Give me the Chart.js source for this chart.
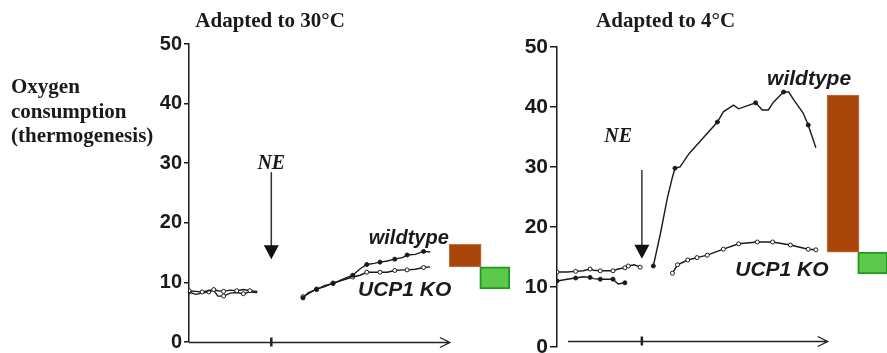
<!DOCTYPE html>
<html>
<head>
<meta charset="UTF-8">
<title>Oxygen consumption after NE</title>
<script src="https://cdn.jsdelivr.net/npm/chart.js"></script>
<style>
  body { margin: 0; background: #fff; }
  #wrap { position: relative; width: 887px; height: 353px; overflow: hidden; }
  .box { position: absolute; top: 0; height: 353px; }
</style>
</head>
<body>
<div id="wrap">
  <div class="box" style="left:0;width:520px"><canvas id="warm"></canvas></div>
  <div class="box" style="left:520px;width:373px"><canvas id="cold"></canvas></div>
</div>
<script>
// time in minutes, NE injected at t = 10
const neTime = 10;

// adapted to 30 C
const warmPreT   = [0, 0.8, 1.6, 2.4, 3.0, 3.5, 4.2, 5.0, 5.8, 6.6, 7.4, 8.3];
const warmWtPre  = [8.6, 8.5, 8.4, 8.6, 8.8, 8.6, 8.5, 8.7, 8.6, 8.8, 8.6, 8.5];
const warmKoPre  = [8.4, 8.0, 8.2, 8.4, 8.7, 7.7, 7.7, 8.2, 8.3, 8.1, 8.4, 8.3];
const warmPostT  = [13.85, 14.5, 15.5, 16.5, 17.5, 18.5, 19.9, 20.8, 21.6, 22.5, 23.2, 24.1, 25.0, 26.0, 26.5, 27.5, 28.5, 29.3];
const warmWtPost = [7.4, 8.3, 8.8, 9.5, 9.8, 10.4, 11.2, 12.3, 13.0, 13.2, 13.4, 13.6, 13.9, 14.2, 14.6, 14.7, 15.2, 15.1];
const warmKoPost = [7.6, 8.1, 8.9, 9.3, 9.9, 10.3, 10.9, 11.2, 11.7, 11.7, 11.7, 11.7, 12.0, 12.1, 12.1, 12.2, 12.5, 12.6];
const warmBarT   = [33.55, 37.15];
const warmWtBar  = [12.6, 16.4];
const warmKoBar  = [8.9, 12.6];

// adapted to 4 C
const coldPreT    = [0, 1.2, 2.2, 3.1, 3.9, 4.3, 5.1, 6.0, 6.6, 7.2, 8.0, 8.2, 8.4, 9.1, 9.8];
const coldUpPre   = [12.5, 12.5, 12.6, 12.7, 13.0, 12.8, 12.7, 12.7, 12.7, 13.0, 13.2, null, 13.5, 13.7, 13.3];
const coldLowPre  = [11.0, 11.3, 11.5, 11.7, 11.6, 11.4, 11.3, 11.3, 11.3, 10.5, 10.7, null, null, null, null];
const coldWtPostT = [11.35, 12.2, 13.0, 13.6, 13.9, 14.5, 15.6, 17.0, 18.9, 19.6, 20.8, 21.4, 23.4, 24.2, 24.9, 25.5, 26.7, 27.3, 27.9, 29.0, 29.6, 30.5];
const coldWtPost  = [13.5, 19, 24.8, 28.3, 29.8, 30, 32.3, 34.5, 37.5, 39.2, 40.3, 39.7, 40.7, 39.5, 39.5, 40.8, 42.5, 42.5, 41.2, 39, 37, 33.2];
const coldKoPostT = [13.6, 14.2, 15.4, 16.5, 17.7, 19.6, 21.4, 23.6, 25.4, 27.5, 29.6, 30.5];
const coldKoPost  = [12.3, 13.7, 14.5, 14.9, 15.3, 16.3, 17.2, 17.5, 17.5, 17.0, 16.3, 16.2];
const coldBarT    = [33.7, 37.2];
const coldWtBar   = [15.8, 42];
const coldKoBar   = [12.2, 15.8];

const yTicks = [0, 10, 20, 30, 40, 50];

const pts = (ts, vs) => ts.map((t, i) => ({x: t, y: vs[i]}));

function trace(ts, vs, open, every) {
  return {
    type: 'line', data: pts(ts, vs),
    borderColor: '#1a1a1a', borderWidth: 1.4, tension: 0, spanGaps: false,
    pointRadius: c => (c.dataIndex % every === 0 ? 2 : 0),
    pointBorderWidth: 1, pointBorderColor: '#1a1a1a',
    pointBackgroundColor: open ? '#fff' : '#1a1a1a'
  };
}

function box(t, range, fill, edge, lw, thick) {
  return {
    type: 'bar', data: [{x: t, y: range}],
    backgroundColor: fill, borderColor: edge, borderWidth: lw,
    borderSkipped: false, barThickness: thick, grouped: false
  };
}

// arrows, labels and the time axis
const sketch = {
  id: 'sketch',
  afterDraw(chart, args, o) {
    const {ctx} = chart;
    const px = v => chart.scales.x.getPixelForValue(v);
    const py = v => chart.scales.y.getPixelForValue(v);
    ctx.save();
    ctx.strokeStyle = '#222';
    ctx.fillStyle = '#111';

    const ay = Math.round(py(o.axis[2])) + 0.5;
    const x0 = px(o.axis[0]), x1 = px(o.axis[1]);
    ctx.lineWidth = 1.3;
    ctx.beginPath();
    ctx.moveTo(x0, ay); ctx.lineTo(x1, ay);
    ctx.moveTo(x1 - 10, ay - 5); ctx.lineTo(x1, ay); ctx.lineTo(x1 - 10, ay + 5);
    ctx.stroke();
    ctx.lineWidth = 2.5;
    ctx.beginPath();
    ctx.moveTo(px(neTime), ay - 5); ctx.lineTo(px(neTime), ay + 4);
    ctx.stroke();

    const ax = px(neTime), tip = py(o.arrow[1]);
    ctx.lineWidth = 1.5;
    ctx.strokeStyle = '#333';
    ctx.beginPath();
    ctx.moveTo(ax, py(o.arrow[0])); ctx.lineTo(ax, tip - 12);
    ctx.stroke();
    ctx.beginPath();
    ctx.moveTo(ax - 7.5, tip - 14); ctx.lineTo(ax + 7.5, tip - 14); ctx.lineTo(ax, tip);
    ctx.closePath(); ctx.fill();

    ctx.fillStyle = '#1a1a1a';
    ctx.textAlign = 'center';
    ctx.textBaseline = 'alphabetic';
    o.labels.forEach(l => {
      ctx.font = l.font;
      ctx.fillText(l.text, px(l.x), py(l.y));
    });
    ctx.font = 'bold 21px "Liberation Serif"';
    ctx.fillText(o.title, px(o.titleX), 27);
    if (o.yLabel) {
      ctx.textAlign = 'left';
      o.yLabel.forEach((line, i) => ctx.fillText(line, 11, 93 + i * 24.5));
    }
    ctx.restore();
  }
};

function makeChart(id, datasets, axisW, pad, tickSize, tickLen, ann) {
  return new Chart(document.getElementById(id), {
    type: 'line',
    data: {datasets},
    options: {
      responsive: true, maintainAspectRatio: false, animation: false,
      layout: {padding: pad},
      plugins: {legend: {display: false}, tooltip: {enabled: false}, sketch: ann},
      scales: {
        x: {type: 'linear', min: 0, max: 39, display: false, offset: false},
        y: {
          min: 0, max: 50,
          afterBuildTicks: s => { s.ticks = yTicks.map(v => ({value: v})); },
          afterFit: s => { s.width = axisW; s.paddingTop = 0; s.paddingBottom = 0; },
          border: {display: true, color: '#1a1a1a', width: 1.5},
          grid: {drawOnChartArea: false, drawTicks: true, tickLength: tickLen, color: '#1a1a1a', lineWidth: 1.5},
          ticks: {padding: 2, color: '#1a1a1a', font: {family: 'Liberation Sans', weight: 'bold', size: tickSize, lineHeight: 1}}
        }
      }
    },
    plugins: [sketch]
  });
}

const lblFont = 'italic bold 20px "Liberation Sans"';
const koFont = 'italic bold 21px "Liberation Sans"';
const neFont = 'italic bold 20px "Liberation Serif"';

makeChart('warm', [
  trace(warmPreT, warmWtPre, true, 2),
  trace(warmPreT, warmKoPre, true, 3),
  trace(warmPostT, warmWtPost, false, 2),
  trace(warmPostT, warmKoPost, true, 2),
  box(warmBarT[0], warmWtBar, '#A9470A', '#C9733F', 1, 32),
  box(warmBarT[1], warmKoBar, '#5EC84D', '#1E9B1E', 2, 30)
], 189, {top: 44, bottom: 11, left: 0, right: 10}, 20, 5, {
  axis: [0, 31.7, 0], arrow: [28.5, 13.9],
  title: 'Adapted to 30°C', titleX: 9.85,
  yLabel: ['Oxygen', 'consumption', '(thermogenesis)'],
  labels: [
    {text: 'NE', x: 10, y: 29.0, font: neFont},
    {text: 'wildtype', x: 26.7, y: 16.4, font: lblFont},
    {text: 'UCP1 KO', x: 26.2, y: 7.7, font: koFont}
  ]
});

makeChart('cold', [
  trace(coldPreT, coldUpPre, true, 2),
  trace(coldPreT, coldLowPre, false, 2),
  trace(coldWtPostT, coldWtPost, false, 4),
  trace(coldKoPostT, coldKoPost, true, 1),
  box(coldBarT[0], coldWtBar, '#A9470A', '#C9733F', 1, 32),
  box(coldBarT[1], coldKoBar, '#5EC84D', '#1E9B1E', 2, 30)
], 37, {top: 47, bottom: 6, left: 0, right: 0}, 21, 7, {
  axis: [1.3, 31.9, 1.0], arrow: [29.5, 14.7],
  title: 'Adapted to 4°C', titleX: 12.8,
  labels: [
    {text: 'NE', x: 7.2, y: 34.2, font: neFont},
    {text: 'wildtype', x: 29.7, y: 43.7, font: 'italic bold 21px "Liberation Sans"'},
    {text: 'UCP1 KO', x: 26.5, y: 11.8, font: koFont}
  ]
});
</script>
</body>
</html>
